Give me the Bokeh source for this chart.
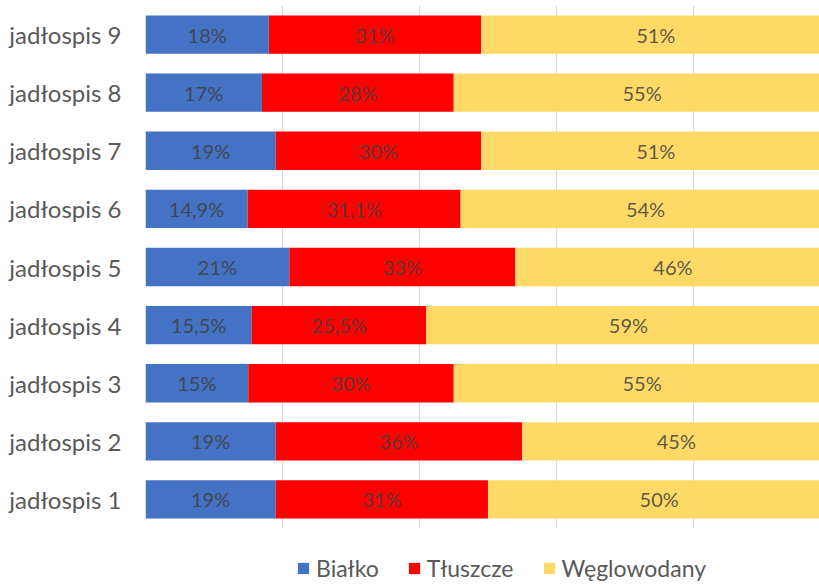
from bokeh.plotting import figure
from bokeh.layouts import column
from bokeh.models import ColumnDataSource, FactorRange, Range1d, LabelSet, Legend, LegendItem, FixedTicker
from bokeh.core.properties import value
from bokeh.embed import file_html
from bokeh.resources import INLINE

categories = ["jadłospis 1", "jadłospis 2", "jadłospis 3", "jadłospis 4", "jadłospis 5",
              "jadłospis 6", "jadłospis 7", "jadłospis 8", "jadłospis 9"]
bialko = [19, 19, 15, 15.5, 21, 14.9, 19, 17, 18]
tluszcze = [31, 36, 30, 25.5, 33, 31.1, 30, 28, 31]
weglowodany = [50, 45, 55, 59, 46, 54, 51, 55, 51]
series_names = ["Białko", "Tłuszcze", "Węglowodany"]
colors = ["#4472C4", "#FF0000", "#FFD966"]

def fmt(v):
    if float(v).is_integer():
        return f"{int(v)}%"
    return (f"{v}".replace(".", ",")) + "%"

data = dict(cat=categories, idx=list(range(len(categories))), b=bialko, t=tluszcze, w=weglowodany)
src = ColumnDataSource(data)

p = figure(width=819, height=528, y_range=FactorRange(*categories),
           x_range=Range1d(0, 98.4), output_backend="svg", toolbar_location=None,
           min_border_left=145, min_border_right=0, min_border_top=5, min_border_bottom=0)
p.outline_line_color = None

renderers = p.hbar_stack(["b", "t", "w"], y="cat", height=0.66, color=colors,
                         line_color=None, source=src)

# labels
lab_cat, lab_x, lab_text = [], [], []
for i, c in enumerate(categories):
    start = 0
    for vals in (bialko, tluszcze, weglowodany):
        v = vals[i]
        lab_cat.append(c)
        lab_x.append(start + v / 2)
        lab_text.append(fmt(v))
        start += v
lsrc = ColumnDataSource(dict(cat=lab_cat, x=lab_x, text=lab_text))
labels = LabelSet(x="x", y="cat", text="text", source=lsrc, text_align="center",
                  text_baseline="middle", text_font=value("Lato"), text_font_size="20px",
                  text_color="#404040", text_alpha=0.85)
p.add_layout(labels)

p.xaxis.visible = False
p.xgrid.ticker = FixedTicker(ticks=[0, 20, 40, 60, 80, 100])
p.xgrid.grid_line_color = "#D9D9D9"
p.ygrid.grid_line_color = None

p.yaxis.axis_line_color = None
p.yaxis.major_tick_line_color = None
p.yaxis.minor_tick_line_color = None
p.yaxis.major_tick_out = 0
p.yaxis.major_label_standoff = 24
p.yaxis.major_label_text_font = "Lato"
p.yaxis.major_label_text_font_size = "24px"
p.yaxis.major_label_text_color = "#595959"

# legend figure (its bars lie outside its visible range; only the legend shows)
p2 = figure(width=819, height=56, x_range=Range1d(0, 1), y_range=Range1d(1000, 1001),
            output_backend="svg", toolbar_location=None,
            min_border_left=0, min_border_right=0, min_border_top=0, min_border_bottom=0)
p2.outline_line_color = None
p2.axis.visible = False
p2.grid.visible = False
dummies = p2.hbar_stack(["b", "t", "w"], y="idx", height=0.66, color=colors,
                        line_color=None, source=src)

legend = Legend(items=[LegendItem(label=n, renderers=[r]) for n, r in zip(series_names, dummies)],
                orientation="horizontal", location=(151, 2), padding=0, margin=0,
                spacing=28, glyph_width=14, glyph_height=14, label_standoff=6,
                label_text_font="Lato", label_text_font_size="23px", label_text_color="#595959",
                background_fill_alpha=0, border_line_alpha=0)
p2.add_layout(legend)

open("out.html", "w").write(file_html(column(p, p2, spacing=0), INLINE))
